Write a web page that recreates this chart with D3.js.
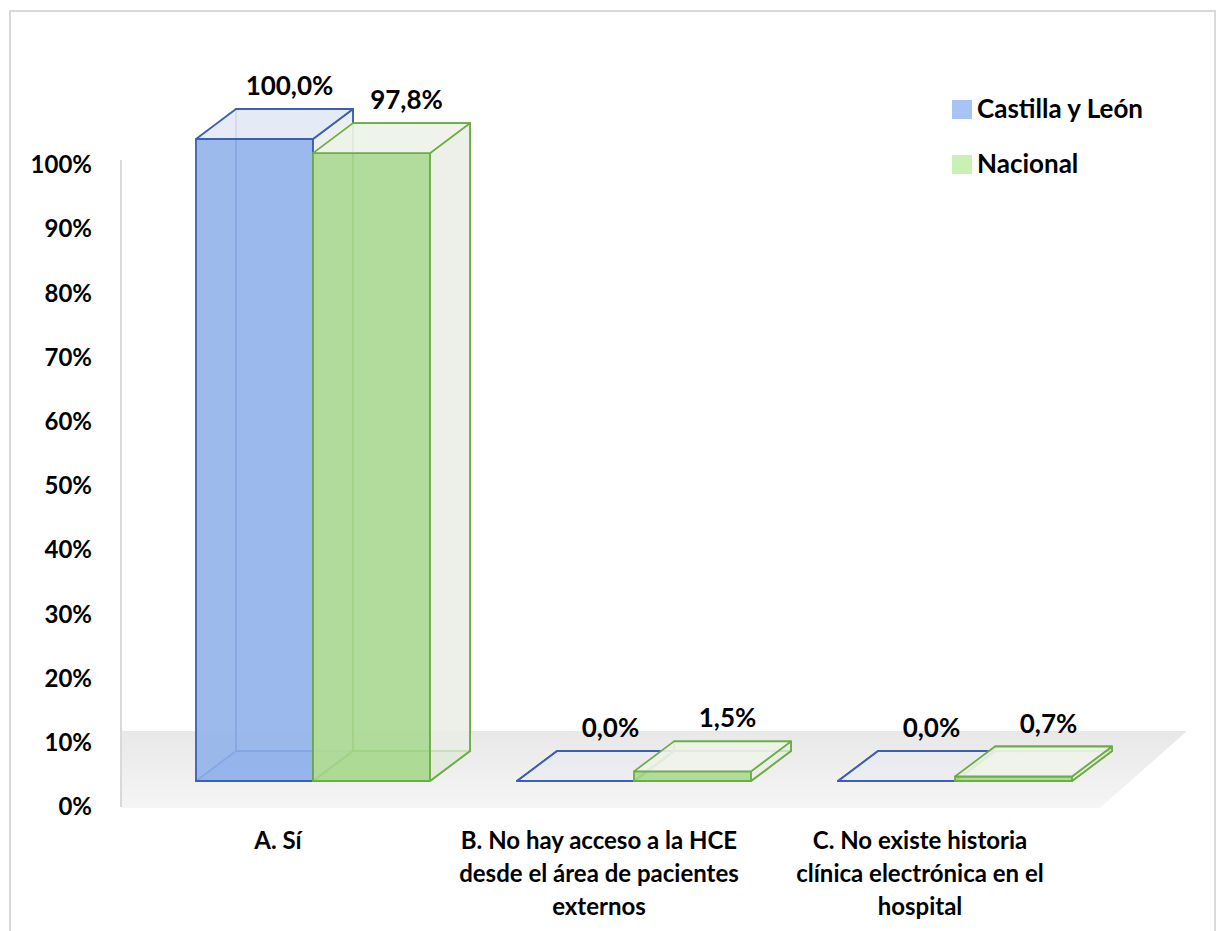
<!DOCTYPE html>
<html>
<head>
<meta charset="utf-8">
<script src="https://cdn.jsdelivr.net/npm/d3@7"></script>
<style>
body { margin: 0; background: #fff; }
text { font-family: Lato, "Open Sans", sans-serif; font-weight: bold; fill: #000; }
</style>
</head>
<body>
<div id="chart"></div>
<script>
var categories = ['A', 'B', 'C'];
var categoryLines = [
    ['A. Sí'],
    ['B. No hay acceso a la HCE', 'desde el área de pacientes', 'externos'],
    ['C. No existe historia', 'clínica electrónica en el', 'hospital']
];
var series = ['Castilla y León', 'Nacional'];
var castillaValues = [1.000, 0.000, 0.000];
var nacionalValues = [0.978, 0.015, 0.007];
var yTicks = [0, 0.1, 0.2, 0.3, 0.4, 0.5, 0.6, 0.7, 0.8, 0.9, 1.0];

var seriesValues = [castillaValues, nacionalValues];
var fills = ['#8fb0ea', '#a8d88f'];
var strokes = ['#3c5fb4', '#6cae45'];
var topFills = ['#e3e9f6', '#eef3ea'];
var swatch = ['#a8c4f4', '#c8f1b3'];

var width = 1216, height = 931;
var depthX = 40, depthY = -30;

var es = d3.formatLocale({ decimal: ',', thousands: '.', grouping: [3], currency: ['', '€'] });
var pct1 = es.format('.1%');

var svg = d3.select('#chart')
    .append('svg')
    .attr('width', width)
    .attr('height', height);

svg.append('rect')
    .attr('x', 10).attr('y', 11)
    .attr('width', 1205).attr('height', 960)
    .attr('fill', 'none')
    .attr('stroke', '#d9d9d9')
    .attr('stroke-width', 2);

var x = d3.scaleBand()
    .domain(categories)
    .range([152.5, 1115.5])
    .paddingInner(0.271)
    .paddingOuter(0.1355);
var xs = d3.scaleBand()
    .domain(series)
    .range([0, x.bandwidth()]);
var y = d3.scaleLinear().domain([0, 1]).range([781, 139]);
var yAxisScale = d3.scaleLinear().domain([0, 1]).range([806, 164]);

// floor and wall
var grad = svg.append('defs').append('linearGradient')
    .attr('id', 'floorGrad').attr('x1', 0).attr('y1', 0).attr('x2', 0).attr('y2', 1);
grad.append('stop').attr('offset', '0%').attr('stop-color', '#e8e8e8');
grad.append('stop').attr('offset', '100%').attr('stop-color', '#f5f5f5');

svg.append('path')
    .attr('d', 'M121,808 L1100,808 L1187,731 L121,731 Z')
    .attr('fill', 'url(#floorGrad)');

svg.append('line')
    .attr('x1', 121).attr('x2', 121)
    .attr('y1', 160).attr('y2', 807)
    .attr('stroke', '#d9d9d9')
    .attr('stroke-width', 2);

// y axis labels
var yAxis = d3.axisLeft(yAxisScale)
    .tickValues(yTicks)
    .tickSize(0)
    .tickPadding(0)
    .tickFormat(d3.format('.0%'));
var gy = svg.append('g')
    .attr('transform', 'translate(92,0)')
    .call(yAxis);
gy.select('.domain').remove();
gy.selectAll('text')
    .attr('font-size', 24)
    .attr('font-family', 'Lato, sans-serif')
    .attr('font-weight', 'bold')
    .attr('fill', '#000')
    .attr('dy', '0.36em');

// bars
var bars = [];
series.forEach(function (s, j) {
    categories.forEach(function (c, i) {
        var x0 = x(c) + xs(s);
        var x1 = x0 + xs.bandwidth();
        bars.push({ s: j, v: seriesValues[j][i], x0: x0, x1: x1, yT: y(seriesValues[j][i]), yB: y(0) });
    });
});

function poly(pts) {
    return 'M' + pts.map(function (p) { return p[0] + ',' + p[1]; }).join('L') + 'Z';
}

var g = svg.append('g');
bars.sort(function (a, b) { return a.x0 - b.x0; }).forEach(function (b) {
    var dx = depthX, dy = depthY;
    var box = g.append('g')
        .attr('stroke', strokes[b.s])
        .attr('stroke-width', 1.8)
        .attr('stroke-linejoin', 'round');
    // back face
    box.append('path')
        .attr('d', poly([[b.x0 + dx, b.yT + dy], [b.x1 + dx, b.yT + dy], [b.x1 + dx, b.yB + dy], [b.x0 + dx, b.yB + dy]]))
        .attr('fill', b.s === 1 ? '#eef0ea' : '#e8ecf4')
        .attr('fill-opacity', 0.5);
    // bottom face
    box.append('path')
        .attr('d', poly([[b.x0, b.yB], [b.x1, b.yB], [b.x1 + dx, b.yB + dy], [b.x0 + dx, b.yB + dy]]))
        .attr('fill', fills[b.s])
        .attr('fill-opacity', b.v > 0.05 ? 0.5 : 0);
    // front face
    box.append('path')
        .attr('d', poly([[b.x0, b.yT], [b.x1, b.yT], [b.x1, b.yB], [b.x0, b.yB]]))
        .attr('fill', fills[b.s])
        .attr('fill-opacity', 0.88);
    // right face
    box.append('path')
        .attr('d', poly([[b.x1, b.yT], [b.x1 + dx, b.yT + dy], [b.x1 + dx, b.yB + dy], [b.x1, b.yB]]))
        .attr('fill', '#e9ece6')
        .attr('fill-opacity', 0.75);
    // top face
    box.append('path')
        .attr('d', poly([[b.x0, b.yT], [b.x0 + dx, b.yT + dy], [b.x1 + dx, b.yT + dy], [b.x1, b.yT]]))
        .attr('fill', topFills[b.s])
        .attr('fill-opacity', b.v > 0 ? 0.9 : 0.3);

    svg.append('text')
        .attr('x', (b.x0 + b.x1) / 2 + dx - 5)
        .attr('y', b.yT + dy - 14)
        .attr('text-anchor', 'middle')
        .attr('font-size', 26)
        .text(pct1(b.v));
});

// category labels
categories.forEach(function (c, i) {
    var cx = x(c) + x.bandwidth() / 2 - 35;
    var t = svg.append('text')
        .attr('x', cx)
        .attr('y', 849)
        .attr('text-anchor', 'middle')
        .attr('font-size', 24);
    categoryLines[i].forEach(function (line, k) {
        t.append('tspan')
            .attr('x', cx)
            .attr('dy', k === 0 ? 0 : 33)
            .text(line);
    });
});

// legend
var legend = svg.append('g').attr('transform', 'translate(952,100)');
series.forEach(function (s, j) {
    var row = legend.append('g').attr('transform', 'translate(0,' + (j * 55) + ')');
    row.append('rect')
        .attr('width', 20).attr('height', 19)
        .attr('fill', swatch[j]);
    row.append('text')
        .attr('x', 25)
        .attr('y', 18)
        .attr('font-size', 26)
        .text(s);
});
</script>
</body>
</html>
